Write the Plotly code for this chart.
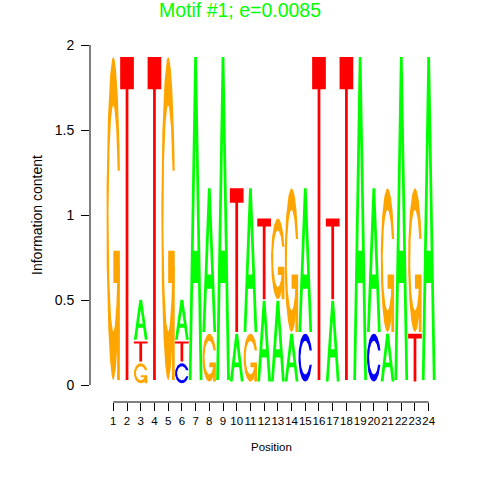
import numpy as np
import plotly.graph_objects as go

# ---- data (letter heights in bits, per position) ----
positions = list(range(1, 25))
A_height = [0, 0, 0.235, 0, 0, 0.235, 1.9, 0.845, 1.9, 0.282, 0.845, 0.475,
            0.475, 0.282, 0.845, 0, 0.475, 0, 1.9, 0.845, 0.282, 1.9, 0, 1.9]
C_height = [0, 0, 0, 0, 0, 0.118, 0, 0, 0, 0, 0, 0,
            0, 0, 0.282, 0, 0, 0, 0, 0.282, 0, 0, 0, 0]
G_height = [1.9, 0, 0.118, 0, 1.9, 0, 0, 0.282, 0, 0, 0.282, 0,
            0.475, 0.845, 0, 0, 0, 0, 0, 0, 0.845, 0, 0.845, 0]
T_height = [0, 1.9, 0.118, 1.9, 0, 0.118, 0, 0, 0, 0.845, 0, 0.475,
            0, 0, 0, 1.9, 0.475, 1.9, 0, 0, 0, 0, 0.282, 0]
letters = ["A", "C", "G", "T"]
y_ticks = [0, 0.5, 1, 1.5, 2]
title_text = "Motif #1; e=0.0085"
x_title = "Position"
y_title = "Information content"

colors = {"A": "#00FF00", "C": "#0000FF", "G": "#FFA500", "T": "#FF0000"}
FONT = "Liberation Sans, Arial, sans-serif"


def c_shape():
    a1 = np.linspace(0.3 + np.pi / 2, np.pi, 100)
    a2 = np.linspace(np.pi, 1.5 * np.pi, 100)
    xl1, yl1 = 0.5 + 0.5 * np.sin(a1), 0.5 + 0.5 * np.cos(a1)
    xl2, yl2 = 0.5 + 0.5 * np.sin(a2), 0.5 + 0.5 * np.cos(a2)
    xl = np.concatenate([xl1, xl2]); yl = np.concatenate([yl1, yl2])
    x = np.concatenate([xl, xl[::-1]]); y = np.concatenate([yl, 1 - yl[::-1]])
    xi1, yi1 = 0.5 + 0.35 * np.sin(a1), 0.5 + 0.35 * np.cos(a1)
    m = yi1 <= yl1.max()
    xi1 = xi1[m]; yi1 = yi1[m].copy(); yi1[0] = yl1.max()
    xi2, yi2 = 0.5 + 0.35 * np.sin(a2), 0.5 + 0.35 * np.cos(a2)
    xi = np.concatenate([xi1, xi2]); yi = np.concatenate([yi1, yi2])
    x1 = np.concatenate([xi, xi[::-1]]); y1 = np.concatenate([yi, 1 - yi[::-1]])
    X = np.concatenate([x, x1[::-1]]); Y = np.concatenate([y, y1[::-1]])
    return X, Y, xl1.max()


def glyph(letter):
    col = colors[letter]
    if letter == "A":
        ox = np.array([0, 4, 6, 10, 8, 6.8, 3.2, 2, 0]) / 10
        oy = np.array([0, 10, 10, 0, 0, 3, 3, 0, 0]) / 10
        hx = np.array([3.6, 5, 6.4, 3.6]) / 10
        hy = np.array([4, 7.5, 4, 4]) / 10
        return [(ox, oy, col), (hx, hy, "white")]
    if letter == "T":
        x = np.array([0, 10, 10, 6, 6, 4, 4, 0]) / 10
        y = np.array([10, 10, 9, 9, 0, 0, 9, 9]) / 10
        return [(x, y, col)]
    X, Y, r1 = c_shape()
    if letter == "C":
        return [(X, Y, col)]
    h1 = 0.4
    xa = np.array([r1, 0.5, 0.5, r1 - 0.2, r1 - 0.2, r1, r1])
    ya = np.array([h1, h1, h1 - 0.1, h1 - 0.1, 0, 0, h1])
    return [(X, Y, col), (xa, ya, col)]


heights = {"A": A_height, "C": C_height, "G": G_height, "T": T_height}
fig = go.Figure()
for j, pos in enumerate(positions):
    col_h = [heights[L][j] for L in letters]
    order = sorted(range(4), key=lambda k: col_h[k])  # stable: A,C,G,T ties
    ypos = 0.0
    for k in order:
        h = col_h[k]
        if h > 0:
            for ux, uy, fc in glyph(letters[k]):
                fig.add_trace(go.Scatter(
                    x=pos - 0.5 + ux, y=ypos + uy * h, mode="lines",
                    fill="toself", fillcolor=fc, line=dict(width=0, color=fc),
                    hoverinfo="skip", showlegend=False))
        ypos += h + 0.01

fig.update_layout(
    width=480, height=480,
    margin=dict(l=90, r=28.4, t=28, b=78),
    paper_bgcolor="white", plot_bgcolor="white",
    font=dict(family=FONT, color="black"),
    title=dict(text=title_text, x=0.5, xanchor="center", xref="container",
               y=1 - 10.5 / 480, yanchor="middle", yref="container",
               font=dict(size=19.5, color="#00FF00", family=FONT)),
    xaxis=dict(range=[-0.7, 25.7], tickmode="array", tickvals=positions,
               ticktext=[str(p) for p in positions], ticks="outside",
               ticklen=8, tickwidth=1, tickcolor="black", tickangle=0,
               showline=False, showgrid=False, zeroline=False,
               tickfont=dict(size=11.5, family=FONT, color="black"),
               fixedrange=True),
    yaxis=dict(range=[-0.1, 2.1], tickmode="array", tickvals=y_ticks,
               ticktext=[f"{v:g}" for v in y_ticks], ticks="outside",
               ticklen=8, tickwidth=1, tickcolor="black",
               showline=False, showgrid=False, zeroline=False,
               tickfont=dict(size=14, family=FONT, color="black"),
               ticklabelstandoff=4, fixedrange=True),
    shapes=[
        dict(type="line", xref="x", yref="paper", x0=positions[0], x1=positions[-1],
             y0=0, y1=0, line=dict(color="black", width=1)),
        dict(type="line", xref="paper", yref="y", x0=0, x1=0,
             y0=y_ticks[0], y1=y_ticks[-1], line=dict(color="black", width=1)),
    ],
    annotations=[
        dict(text=x_title, xref="paper", yref="paper", x=0.5, y=-45 / 374,
             xanchor="center", yanchor="middle", showarrow=False,
             font=dict(size=11.5, family=FONT, color="black")),
        dict(text=y_title, xref="paper", yref="paper", x=-53 / 361.6, y=0.5,
             xanchor="center", yanchor="middle", textangle=-90, showarrow=False,
             font=dict(size=14, family=FONT, color="black")),
    ],
)

fig.write_html("out.html", config={"displayModeBar": False},
               post_script="document.body.style.margin='0';"
                           "document.body.style.overflow='hidden';")
